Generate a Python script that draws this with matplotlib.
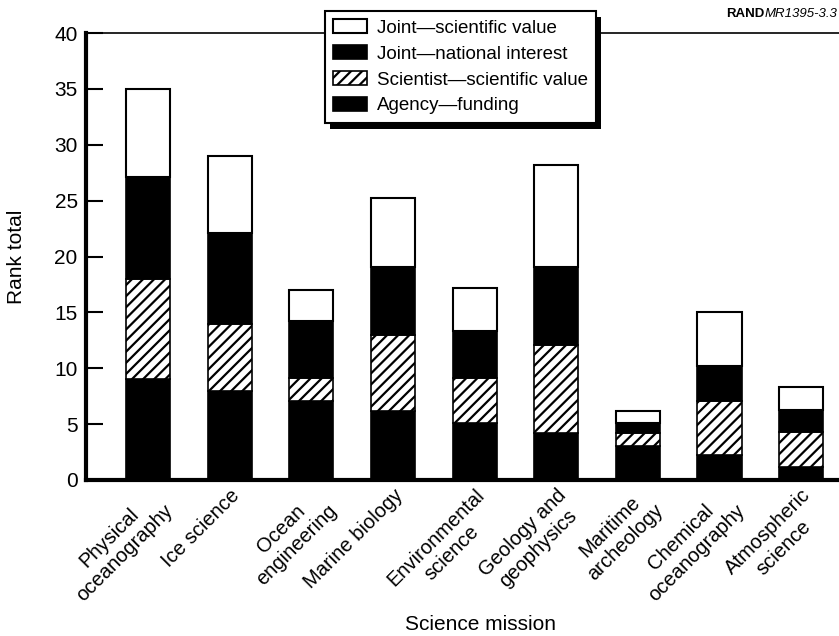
import matplotlib.pyplot as plt
from matplotlib.patches import Rectangle
import numpy as np

plt.rcParams['font.family'] = ['Liberation Sans', 'DejaVu Sans']
plt.rcParams['hatch.linewidth'] = 1.6

# categories (x axis)
missions = ['Physical\noceanography', 'Ice science', 'Ocean\nengineering',
            'Marine biology', 'Environmental\nscience', 'Geology and\ngeophysics',
            'Maritime\narcheology', 'Chemical\noceanography', 'Atmospheric\nscience']

# stacked segments, bottom to top
agency_funding = [9.0, 8.0, 7.1, 6.2, 5.1, 4.2, 3.0, 2.2, 1.2]
scientist_value = [9.0, 6.0, 2.0, 6.8, 4.0, 7.9, 1.2, 4.9, 3.1]
joint_national = [9.1, 8.1, 5.1, 6.1, 4.2, 7.0, 0.9, 3.1, 2.0]
joint_value = [7.9, 6.9, 2.8, 6.1, 3.9, 9.1, 1.1, 4.8, 2.0]

fig = plt.figure(figsize=(8.39, 6.36), dpi=100)
ax = fig.add_axes([0.1025, 0.2453, 0.94, 0.7027])

x = np.arange(len(missions))
w = 0.54
b1 = np.array(agency_funding)
b2 = b1 + np.array(scientist_value)
b3 = b2 + np.array(joint_national)

ax.bar(x, agency_funding, w, color='black', edgecolor='black', lw=1.2,
       label='Agency\u2014funding')
ax.bar(x, scientist_value, w, bottom=b1, color='white', edgecolor='black',
       hatch='///', lw=1.2, label='Scientist\u2014scientific value')
ax.bar(x, joint_national, w, bottom=b2, color='black', edgecolor='black', lw=1.2,
       label='Joint\u2014national interest')
ax.bar(x, joint_value, w, bottom=b3, color='white', edgecolor='black', lw=1.5,
       label='Joint\u2014scientific value')

ax.set_xlim(-0.76, 8.9)
ax.set_ylim(0, 40)
ax.set_yticks(range(0, 41, 5))
ax.tick_params(axis='y', direction='in', length=12, width=1.5, labelsize=15, pad=6)
ax.tick_params(axis='x', length=0, labelsize=14.5, pad=4)
ax.set_xticks(x)
ax.set_xticklabels(missions, rotation=45, ha='right', rotation_mode='anchor',
                   multialignment='center')

ax.spines['left'].set_linewidth(3)
ax.spines['bottom'].set_linewidth(3)
ax.spines['top'].set_linewidth(1.2)
ax.spines['right'].set_visible(False)

ax.set_ylabel('Rank total', fontsize=15)
ax.yaxis.set_label_coords(-(86 - 26) / (0.94 * 839), 0.5)
ax.set_xlabel('Science mission', fontsize=15)
ax.xaxis.set_label_coords(0.5, -(615 - 480) / 447)

handles, labels = ax.get_legend_handles_labels()
leg = ax.legend(handles[::-1], labels[::-1], loc='upper left',
                bbox_to_anchor=(325 / 839, 1 - 11 / 636), bbox_transform=fig.transFigure,
                borderaxespad=0, fontsize=13.5, frameon=True, fancybox=False,
                framealpha=1, edgecolor='black', handlelength=1.8, handleheight=0.75,
                handletextpad=0.5, labelspacing=0.45, borderpad=0.45)
leg.get_frame().set_linewidth(1.5)

# drop shadow behind the legend box
fig.canvas.draw()
bb = leg.get_window_extent()
shadow = Rectangle((bb.x0 + 5, bb.y0 - 6), bb.width, bb.height, transform=None,
                   facecolor='black', edgecolor='none', zorder=4.9, clip_on=False)
ax.add_artist(shadow)

# figure id, top right: bold "RAND" + italic number
t2 = fig.text(837 / 839, 1 - 14 / 636, 'MR1395-3.3', fontsize=9.5,
              style='italic', ha='right', va='center')
fig.canvas.draw()
e = t2.get_window_extent()
fig.text(e.x0 / fig.bbox.width, 1 - 14 / 636, 'RAND', fontsize=9.5, fontweight='bold',
         ha='right', va='center')

fig.savefig('out.png', dpi=100)
